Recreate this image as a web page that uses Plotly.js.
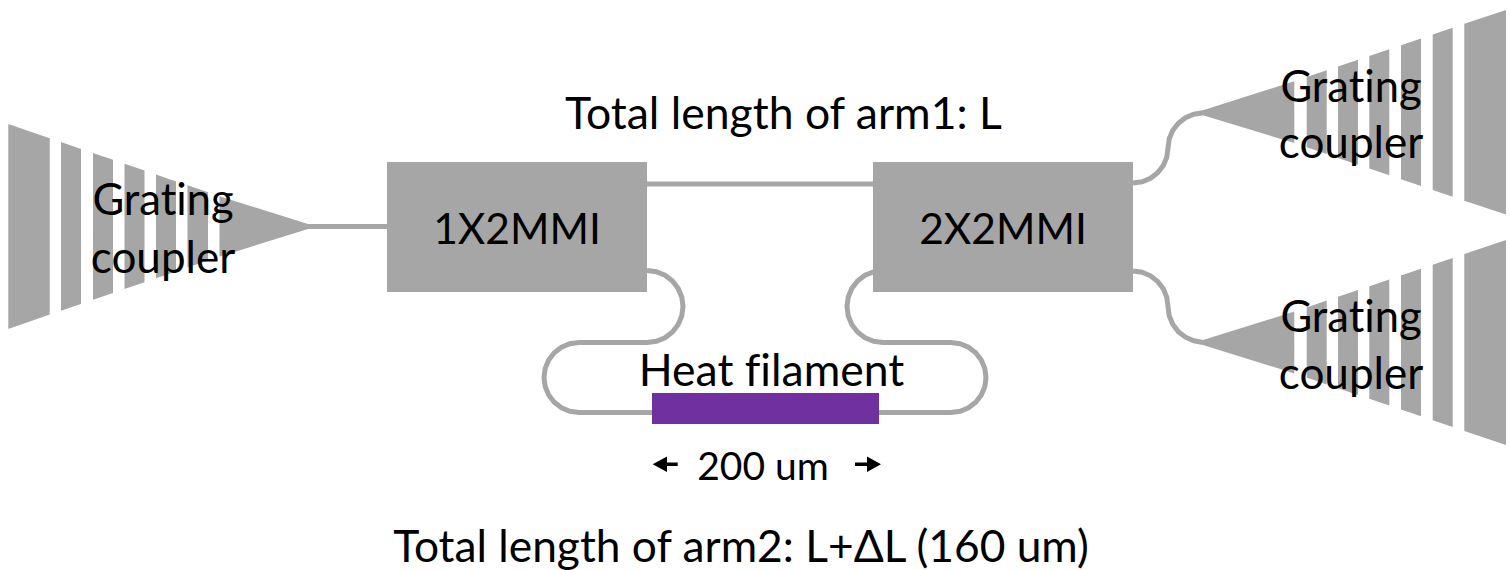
<!DOCTYPE html>
<html>
<head>
<meta charset="utf-8">
<script src="https://cdn.plot.ly/plotly-3.0.1.min.js"></script>
<style>html,body{margin:0;padding:0;background:#fff}#chart{width:1510px;height:570px}
#chart text{font-variant-ligatures:none;font-feature-settings:"liga" 0}</style>
</head>
<body>
<div id="chart"></div>
<script>
var GREY = '#A6A6A6', PURPLE = '#7030A0', BLACK = '#000000';

var couplerLeftX = [8.3,49.7,49.7,8.3,null, 61,81,81,61,null, 93,113,113,93,null, 124.5,144.5,144.5,124.5,null, 156,176,176,156,null, 187.5,208,208,187.5,null, 219.5,308,308,219.5];
var couplerLeftY = [124,138.2,314.6,329,null, 142.1,148.9,303.9,310.7,null, 153,159.8,293,299.8,null, 163.8,170.6,282.2,289,null, 174.5,181.4,271.4,278.3,null, 185.3,192.3,260.5,267.5,null, 196.2,224,229,256.6];

var couplerTopX = [1506,1464.3,1464.3,1506,null, 1452.7,1432.7,1432.7,1452.7,null, 1421,1401,1401,1421,null, 1389.3,1369.3,1369.3,1389.3,null, 1358,1338,1338,1358,null, 1326.7,1306.7,1306.7,1326.7,null, 1294.3,1203,1203,1294.3];
var couplerTopY = [10,23.7,200.7,214.5,null, 27.7,34.4,190,196.7,null, 38.4,45.2,179.2,186,null, 49.2,55.9,168.5,175.2,null, 59.7,66.5,157.9,164.7,null, 70.3,77.1,147.3,154.1,null, 81.3,110.2,115.2,143.1];

var couplerBottomX = couplerTopX;
var couplerBottomY = [240,254,431,445,null, 258,264.7,420.3,427,null, 268.7,275.5,409.5,416.3,null, 279.5,286.2,398.8,405.5,null, 290,296.8,388.2,395,null, 300.6,307.4,377.6,384.4,null, 311.6,340,345,373.4];

var mmiX = [387,647,647,387,null, 873,1133,1133,873];
var mmiY = [162,162,292,292,null, 162,162,292,292];

var filamentX = [652,879,879,652];
var filamentY = [393,393,424,424];

var inputGuideX = [300,387];
var inputGuideY = [226.5,226.5];
var arm1X = [647,873];
var arm1Y = [184,184];

var arm2LeftX = [647,656.3,665,672.5,678.2,681.8,683,681.8,678.2,672.5,665,656.3,647,579,569.9,561.5,554.3,548.7,545.2,544,545.2,548.7,554.3,561.5,569.9,579,652];
var arm2LeftY = [270.5,271.7,275.3,281,288.5,297.2,306.5,315.8,324.5,332,337.7,341.3,342.5,342.5,343.7,347.2,352.8,360,368.4,377.5,386.6,395,402.2,407.8,411.3,412.5,412.5];

var arm2RightX = [873,873.7,865,857.5,851.8,848.2,847,848.2,851.8,857.5,865,873.7,883,951,960.1,968.5,975.7,981.3,984.8,986,984.8,981.3,975.7,968.5,960.1,951,879];
var arm2RightY = [270.9,271.7,275.3,281,288.5,297.2,306.5,315.8,324.5,332,337.7,341.3,342.5,342.5,343.7,347.2,352.8,360,368.4,377.5,386.6,395,402.2,407.8,411.3,412.5,412.5];

var outTopX = [1133,1142.1,1150.5,1157.7,1163.3,1166.8,1168,1169.2,1172.7,1178.3,1185.5,1193.9,1203,1210];
var outTopY = [183,181.8,178.3,172.7,165.5,157.1,148,138.9,130.5,123.3,117.7,114.2,112.7,112.7];
var outBottomX = [1133,1142.1,1150.5,1157.7,1163.3,1166.8,1168,1169.2,1172.7,1178.3,1185.5,1193.9,1203,1210];
var outBottomY = [271,272.2,275.8,281.4,288.8,297.3,306.5,315.7,324.3,331.6,337.2,340.8,342.5,342.5];

var arrowsX = [652.7,667,667,677.7,677.7,667,667,null, 881,867,867,855,855,867,867];
var arrowsY = [464.3,456.6,462.6,462.6,466,466,472,null, 464.3,456.6,462.6,462.6,466,466,472];

var labelText = ['Grating','coupler','Grating','coupler','Grating','coupler','1X2MMI','2X2MMI','Total length of arm1: L','Heat filament','200 um','Total length of arm2: L+ΔL (160 um)'];
var labelX = [163,163,1351,1351,1351,1351,517,1003,783.5,771.5,763,741];
var labelY = [204,262,91,147,321,378,233,233,118,375,470,551];
var labelSize = [43.5,44,43.5,44,43.5,44,42.5,42.5,44.5,44.5,39,44.3];

function poly(x, y, color) {
  return {type:'scatter', mode:'lines', x:x, y:y, fill:'toself', fillcolor:color,
          line:{width:0, color:color}, hoverinfo:'skip', showlegend:false};
}
function guide(x, y) {
  return {type:'scatter', mode:'lines', x:x, y:y,
          line:{width:5, color:GREY, shape:'linear', simplify:false}, hoverinfo:'skip', showlegend:false};
}

var traces = [
  guide(inputGuideX, inputGuideY), guide(arm1X, arm1Y),
  guide(arm2LeftX, arm2LeftY), guide(arm2RightX, arm2RightY),
  guide(outTopX, outTopY), guide(outBottomX, outBottomY),
  poly(couplerLeftX, couplerLeftY, GREY),
  poly(couplerTopX, couplerTopY, GREY),
  poly(couplerBottomX, couplerBottomY, GREY),
  poly(mmiX, mmiY, GREY),
  poly(filamentX, filamentY, PURPLE),
  poly(arrowsX, arrowsY, BLACK),
  {type:'scatter', mode:'text', x:labelX, y:labelY, text:labelText, textposition:'middle center',
   textfont:{family:'Lato, "Open Sans", sans-serif', size:labelSize, color:BLACK},
   cliponaxis:false, hoverinfo:'skip', showlegend:false}
];

var layout = {
  width:1510, height:570,
  margin:{l:0, r:0, t:0, b:0, pad:0},
  paper_bgcolor:'#ffffff', plot_bgcolor:'#ffffff',
  showlegend:false,
  xaxis:{range:[0,1510], visible:false, fixedrange:true},
  yaxis:{range:[570,0], visible:false, fixedrange:true}
};
Plotly.newPlot('chart', traces, layout, {displayModeBar:false, staticPlot:true});
</script>
</body>
</html>
